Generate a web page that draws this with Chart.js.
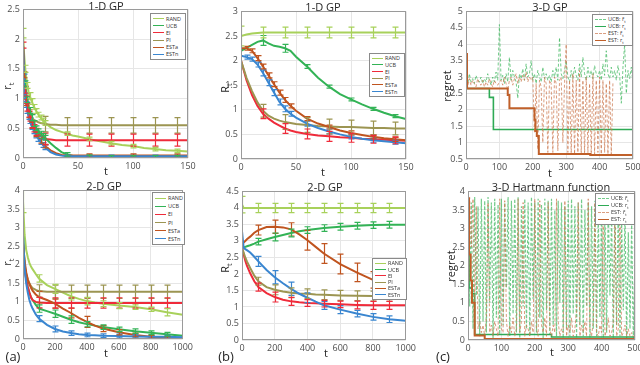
<!DOCTYPE html>
<html>
<head>
<meta charset="utf-8">
<script src="https://cdn.jsdelivr.net/npm/chart.js@4"></script>
<style>
body { margin: 0; background: #fff; font-family: "Open Sans", "Noto Sans", sans-serif; color: #262626; }
#wrap { position: relative; width: 640px; height: 365px; overflow: hidden; }
.panel { position: absolute; }
.lbl { position: absolute; transform: translate(-50%, -50%); white-space: nowrap; line-height: 1; }
.ttl { font-size: 11px; }
.xl { font-size: 11px; }
.yl { font-size: 11px; transform: translate(-50%, -50%) rotate(-90deg); }
.yl sub, .lg sub { font-size: 70%; }
.tag { font-size: 13px; }
.lg { position: absolute; background: #fff; border: 1px solid #8a8a8a; box-sizing: border-box; padding: 1px 2px; font-size: 5.5px; color: #333; white-space: nowrap; overflow: hidden; }
.lg div { display: flex; align-items: center; }
.lg .sw { display: inline-block; width: 11px; margin-right: 2px; flex: none; }
</style>
</head>
<body>
<div id="wrap">
  <div class="lbl ttl" style="left:106px;top:5px">1-D GP</div>
  <div class="lbl ttl" style="left:323px;top:6px">1-D GP</div>
  <div class="lbl ttl" style="left:550px;top:6px">3-D GP</div>
  <div class="lbl ttl" style="left:104px;top:185px">2-D GP</div>
  <div class="lbl ttl" style="left:325px;top:186px">2-D GP</div>
  <div class="lbl ttl" style="left:551px;top:186px">3-D Hartmann function</div>

  <div class="lbl xl" style="left:106px;top:170px">t</div>
  <div class="lbl xl" style="left:323px;top:171px">t</div>
  <div class="lbl xl" style="left:550px;top:172px">t</div>
  <div class="lbl xl" style="left:106px;top:352px">t</div>
  <div class="lbl xl" style="left:326px;top:352px">t</div>
  <div class="lbl xl" style="left:552px;top:351px">t</div>

  <div class="lbl yl" style="left:8px;top:86px">r<sub>t</sub></div>
  <div class="lbl yl" style="left:226px;top:88px">R<sub>t</sub></div>
  <div class="lbl yl" style="left:446px;top:86px">regret</div>
  <div class="lbl yl" style="left:8px;top:262px">r<sub>t</sub></div>
  <div class="lbl yl" style="left:226px;top:268px">R<sub>t</sub></div>
  <div class="lbl yl" style="left:450px;top:266px">regret</div>

  <div class="lbl tag" style="left:13px;top:356px">(a)</div>
  <div class="lbl tag" style="left:226px;top:356px">(b)</div>
  <div class="lbl tag" style="left:443px;top:356px">(c)</div>
</div>
<script>
// ---------- data ----------
const methods = ['RAND', 'UCB', 'EI', 'PI', 'ESTa', 'ESTn'];
const colors = ['#a8d15b', '#33b356', '#ef2b3a', '#9c9552', '#c0541f', '#3a86d0'];

// 1-D GP, simple regret r_t
const tA1 = [0,1,2,3,4,5,6,8,10,12,14,16,18,20,25,30,35,40,45,50,60,70,80,90,100,110,120,130,140,150];
const a1Rand = [2.1,1.75,1.5,1.35,1.22,1.12,1.05,0.95,0.86,0.79,0.73,0.68,0.63,0.59,0.52,0.47,0.44,0.41,0.38,0.36,0.32,0.28,0.25,0.22,0.2,0.17,0.15,0.13,0.12,0.11];
const a1Ucb  = [1.9,1.5,1.25,1.1,0.98,0.88,0.8,0.68,0.58,0.5,0.45,0.41,0.37,0.34,0.25,0.17,0.1,0.06,0.04,0.03,0.02,0.02,0.01,0.01,0.01,0.01,0.01,0.01,0.01,0.01];
const a1Ei   = [1.9,1.45,1.15,0.98,0.85,0.75,0.68,0.57,0.5,0.44,0.4,0.37,0.34,0.32,0.31,0.3,0.3,0.3,0.3,0.3,0.3,0.3,0.3,0.3,0.3,0.3,0.3,0.3,0.3,0.3];
const a1Pi   = [1.9,1.4,1.1,0.95,0.85,0.78,0.73,0.68,0.64,0.62,0.6,0.59,0.58,0.57,0.56,0.56,0.55,0.55,0.55,0.55,0.55,0.55,0.55,0.55,0.55,0.55,0.55,0.55,0.55,0.55];
const a1Esta = [1.9,1.4,1.1,0.93,0.82,0.73,0.65,0.55,0.47,0.4,0.34,0.29,0.24,0.2,0.13,0.08,0.05,0.04,0.04,0.04,0.04,0.04,0.04,0.04,0.04,0.04,0.04,0.04,0.04,0.04];
const a1Estn = [1.9,1.35,1.05,0.9,0.8,0.7,0.63,0.53,0.45,0.38,0.32,0.27,0.22,0.18,0.1,0.06,0.04,0.03,0.03,0.03,0.03,0.03,0.03,0.03,0.03,0.03,0.03,0.03,0.03,0.03];
// error bars: [t, half width]
const a1RandErr = [[0,0.08],[2,0.06],[4,0.05],[6,0.05],[8,0.05],[10,0.04],[12,0.04],[14,0.04],[16,0.04],[18,0.04],[20,0.04],[40,0.03],[60,0.03],[80,0.03],[100,0.03],[120,0.03],[140,0.03]];
const a1UcbErr  = [[2,0.05],[4,0.05],[6,0.05],[8,0.05],[10,0.05],[12,0.04],[14,0.04],[16,0.04],[18,0.04],[20,0.04],[40,0.03],[60,0.03],[80,0.03],[100,0.03],[120,0.03],[140,0.03]];
const a1EiErr   = [[0,0.05],[2,0.06],[3,0.06],[4,0.06],[5,0.06],[6,0.06],[8,0.06],[10,0.06],[12,0.06],[20,0.1],[40,0.1],[60,0.1],[80,0.1],[100,0.1],[120,0.1],[140,0.1]];
const a1PiErr   = [[20,0.13],[40,0.13],[60,0.13],[80,0.13],[100,0.13],[120,0.13],[140,0.13]];
const a1EstaErr = [[1,0.05],[3,0.05],[5,0.05],[8,0.05],[12,0.04],[16,0.04],[20,0.03],[60,0.03],[100,0.03],[140,0.03]];
const a1EstnErr = [[1,0.06],[2,0.05],[3,0.05],[4,0.05],[5,0.05],[6,0.05],[8,0.05],[10,0.04],[12,0.04],[14,0.04],[16,0.04],[18,0.04],[20,0.04],[40,0.02],[60,0.02],[80,0.02],[100,0.02],[120,0.02],[140,0.02]];

// 1-D GP, cumulative regret R_t
const tB1 = [0,5,10,15,20,25,30,35,40,45,50,60,70,80,90,100,110,120,130,140,150];
const b1Rand = [2.5,2.53,2.55,2.56,2.57,2.57,2.57,2.57,2.57,2.57,2.57,2.57,2.57,2.57,2.57,2.57,2.57,2.57,2.57,2.57,2.57];
const b1Ucb  = [2.2,2.26,2.32,2.38,2.41,2.35,2.3,2.28,2.25,2.2,2.08,1.88,1.65,1.47,1.32,1.21,1.11,1.02,0.94,0.87,0.81];
const b1Ei   = [2.0,1.6,1.3,1.08,0.92,0.82,0.74,0.68,0.62,0.58,0.55,0.51,0.48,0.46,0.44,0.43,0.41,0.4,0.39,0.38,0.37];
const b1Pi   = [2.0,1.65,1.38,1.15,0.98,0.88,0.82,0.78,0.75,0.73,0.71,0.69,0.67,0.66,0.65,0.65,0.64,0.63,0.63,0.62,0.62];
const b1Esta = [2.25,2.25,2.2,2.05,1.88,1.7,1.52,1.35,1.2,1.08,0.98,0.82,0.72,0.65,0.58,0.53,0.49,0.45,0.42,0.4,0.38];
const b1Estn = [2.1,2.07,2.03,1.92,1.75,1.55,1.35,1.16,1.02,0.92,0.84,0.72,0.63,0.56,0.5,0.45,0.41,0.38,0.36,0.34,0.32];
const b1RandErr = [[0,0.2],[20,0.11],[40,0.11],[60,0.11],[80,0.11],[100,0.11],[120,0.11],[140,0.11]];
const b1UcbErr  = [[20,0.1],[40,0.08],[60,0.04],[80,0.03],[100,0.03],[120,0.03],[140,0.03]];
const b1EiErr   = [[20,0.1],[40,0.1],[60,0.1],[80,0.1],[100,0.09],[120,0.08],[140,0.07]];
const b1PiErr   = [[20,0.13],[40,0.15],[60,0.15],[80,0.15],[100,0.14],[120,0.14],[140,0.13]];
const b1EstaErr = [[5,0.04],[10,0.04],[15,0.05],[20,0.05],[25,0.05],[30,0.05],[35,0.05],[40,0.05],[45,0.04],[60,0.04],[80,0.04],[100,0.04],[120,0.04],[140,0.04]];
const b1EstnErr = [[5,0.04],[10,0.04],[15,0.05],[20,0.06],[25,0.06],[30,0.06],[35,0.06],[40,0.06],[45,0.05],[60,0.05],[80,0.05],[100,0.04],[120,0.04],[140,0.04]];

// 2-D GP, simple regret r_t
const tA2 = [0,10,20,30,40,50,60,80,100,150,200,250,300,350,400,450,500,600,700,800,900,1000];
const a2Rand = [3.7,2.8,2.4,2.2,2.05,1.95,1.88,1.75,1.63,1.45,1.35,1.25,1.15,1.08,1.02,0.98,0.95,0.9,0.86,0.8,0.72,0.65];
const a2Ucb  = [2.8,2.0,1.6,1.4,1.25,1.12,1.05,0.92,0.82,0.75,0.68,0.6,0.52,0.45,0.4,0.36,0.32,0.26,0.21,0.17,0.13,0.09];
const a2Ei   = [2.5,1.9,1.6,1.4,1.25,1.12,1.05,1.0,0.98,0.97,0.97,0.97,0.97,0.97,0.97,0.97,0.97,0.97,0.97,0.97,0.97,0.97];
const a2Pi   = [2.6,2.0,1.75,1.6,1.5,1.42,1.37,1.32,1.29,1.27,1.27,1.27,1.27,1.27,1.27,1.27,1.27,1.27,1.27,1.27,1.27,1.27];
const a2Esta = [2.6,2.1,1.8,1.6,1.48,1.38,1.3,1.2,1.13,1.05,0.95,0.82,0.7,0.57,0.46,0.36,0.28,0.18,0.11,0.06,0.03,0.02];
const a2Estn = [2.8,1.9,1.5,1.25,1.05,0.92,0.82,0.66,0.55,0.38,0.27,0.2,0.16,0.13,0.11,0.1,0.09,0.08,0.07,0.06,0.06,0.05];
const a2RandErr = [[0,0.3],[100,0.1],[200,0.12],[300,0.1],[400,0.1],[500,0.08],[600,0.08],[700,0.06],[800,0.06],[900,0.1]];
const a2UcbErr  = [[100,0.1],[200,0.1],[300,0.1],[400,0.07],[500,0.06],[600,0.06],[700,0.06],[800,0.05],[900,0.05]];
const a2EiErr   = [[100,0.14],[200,0.14],[300,0.14],[400,0.14],[500,0.14],[600,0.14],[700,0.14],[800,0.14],[900,0.14]];
const a2PiErr   = [[100,0.17],[200,0.18],[300,0.18],[400,0.18],[500,0.18],[600,0.18],[700,0.18],[800,0.18],[900,0.18]];
const a2EstaErr = [[100,0.15],[200,0.12],[300,0.13],[400,0.15],[500,0.08],[600,0.07],[700,0.05],[800,0.04],[900,0.03]];
const a2EstnErr = [[100,0.08],[200,0.08],[300,0.06],[400,0.05],[500,0.05],[600,0.05],[700,0.04],[800,0.04],[900,0.04]];

// 2-D GP, cumulative regret R_t
const tB2 = [0,10,20,30,50,75,100,150,200,250,300,350,400,450,500,600,700,800,900,1000];
const b2Rand = [4.1,4.0,4.0,4.0,4.0,4.0,4.0,4.0,4.0,4.0,4.0,4.0,4.0,4.0,4.0,4.0,4.0,4.0,4.0,4.0];
const b2Ucb  = [2.8,2.8,2.82,2.84,2.87,2.92,2.98,3.05,3.12,3.18,3.24,3.29,3.33,3.36,3.39,3.43,3.46,3.48,3.49,3.49];
const b2Ei   = [2.8,2.6,2.4,2.25,2.02,1.78,1.6,1.42,1.3,1.22,1.17,1.14,1.12,1.11,1.1,1.08,1.06,1.05,1.05,1.05];
const b2Pi   = [2.8,2.65,2.5,2.38,2.18,1.95,1.78,1.6,1.52,1.47,1.43,1.41,1.4,1.38,1.37,1.35,1.34,1.33,1.32,1.32];
const b2Esta = [2.9,2.95,3.0,3.05,3.13,3.25,3.33,3.42,3.43,3.41,3.35,3.2,3.02,2.82,2.62,2.3,2.05,1.82,1.65,1.5];
const b2Estn = [3.3,2.8,2.75,2.72,2.65,2.52,2.38,2.12,1.9,1.72,1.55,1.4,1.28,1.16,1.05,0.92,0.8,0.7,0.63,0.58];
const b2RandErr = [[0,0.25],[100,0.14],[200,0.14],[300,0.14],[400,0.14],[500,0.14],[600,0.14],[700,0.14],[800,0.14],[900,0.14]];
const b2UcbErr  = [[100,0.1],[200,0.12],[300,0.12],[400,0.1],[500,0.1],[600,0.1],[700,0.1],[800,0.1],[900,0.1]];
const b2EiErr   = [[100,0.12],[200,0.15],[300,0.12],[400,0.1],[500,0.1],[600,0.1],[700,0.12],[800,0.12],[900,0.12]];
const b2PiErr   = [[100,0.12],[200,0.15],[300,0.15],[400,0.15],[500,0.15],[600,0.15],[700,0.15],[800,0.15],[900,0.15]];
const b2EstaErr = [[100,0.15],[200,0.2],[300,0.2],[400,0.3],[500,0.3],[600,0.3],[700,0.28],[800,0.25],[900,0.22]];
const b2EstnErr = [[100,0.15],[200,0.2],[300,0.2],[400,0.15],[500,0.12],[600,0.12],[700,0.1],[800,0.1],[900,0.1]];

// 3-D GP and 3-D Hartmann: instantaneous regret (noisy) and best-so-far regret (steps)
const tN = [0,5,10,15,20,25,30,35,40,45,50,55,60,65,70,75,80,85,90,95,100,105,110,115,120,125,130,135,140,145,150,155,160,165,170,175,180,185,190,195,200,205,210,215,220,225,230,235,240,245,250,255,260,265,270,275,280,285,290,295,300,305,310,315,320,325,330,335,340,345,350,355,360,365,370,375,380,385,390,395,400,405,410,415,420,425,430,435,440,445,450,455,460,465,470,475,480,485,490,495,500];
const c1UcbNoise = [2.8,2.75,3.1,2.85,2.95,2.8,3.05,2.9,2.85,3.0, 2.8,2.95,2.85,3.1,2.9,2.75,3.0,2.85,3.15,2.9, 4.6,2.9,3.05,2.8,3.1,2.85,3.6,2.9,3.2,3.0, 2.85,2.35,3.1,2.95,3.25,2.9,3.4,3.0,3.1,3.5, 2.9,3.1,2.8,3.2,3.0,2.85,3.3,2.95,3.1,2.9, 3.05,2.85,3.2,3.0,3.3,2.9,4.2,3.1,2.95,3.2, 3.5,3.0,2.85,3.2,2.95,3.3,3.05,2.9,3.4,3.0, 3.6,3.1,2.9,3.3,3.0,3.2,2.95,3.35,3.1,3.0, 3.2,2.9,3.4,3.05,3.8,3.1,2.95,3.3,3.0,3.2, 2.9,3.35,3.05,2.2,3.3,4.0,2.5,3.2,2.95,3.3, 2.8];
const c1EstNoise = [3.7,2.7,2.95,2.75,2.9,2.8,2.7,2.95,2.8,2.75, 2.9,2.7,2.85,2.75,2.95,2.8,2.7,2.9,2.8,2.75, 2.85,2.9,2.75,3.0,2.8,2.6,2.9,3.0,2.75,2.95, 3.1,2.8,3.0,2.85,3.05,2.9,3.15,2.85,3.0,2.9, 3.0,1.3,2.8,0.8,2.9,2.7,1.0,3.0,2.8,0.7, 2.9,2.8,0.7,3.0,2.8,0.75,2.9,3.0,1.0,2.8, 4.0,0.7,2.9,0.65,3.1,0.65,2.9,0.7,3.2,0.65, 2.9,0.65,3.0,0.7,2.8,0.65,3.1,0.65,2.9,0.7, 3.0,0.65,2.9,0.7,2.8,0.65,2.9,0.65,2.85];
const c1UcbStepT = [0,70,82,500];
const c1UcbStep  = [2.65,2.38,1.4,1.4];
const c1EstStepT = [0,3,125,130,205,208,212,218,372,500];
const c1EstStep  = [3.7,2.65,2.45,2.05,1.7,1.35,1.2,0.65,0.62,0.62];

const c2UcbNoise = [3.8,0.9,3.7,0.3,3.85,1.2,3.6,0.1,3.8,0.5, 3.75,0.2,3.85,1.0,3.7,0.05,3.8,0.6,3.65,0.15, 3.8,0.4,3.7,1.4,3.85,0.1,3.75,0.7,3.8,0.2, 3.85,0.05,3.6,0.9,3.8,0.3,3.7,0.1,3.85,1.1, 3.7,0.2,3.8,0.6,3.65,0.05,3.8,0.8,3.75,0.15, 3.8,0.4,3.5,0.1,3.75,1.0,3.7,0.05,3.6,0.3, 3.75,0.1,3.8,0.7,3.6,0.05,3.7,0.4,3.8,0.1, 3.5,0.9,3.7,0.05,3.6,0.3,3.75,0.1,3.4,0.6, 3.7,0.05,3.5,0.2,3.6,1.2,3.3,0.05,3.5,0.4, 3.6,0.1,3.2,0.8,3.4,0.05,2.9,0.3,3.1,0.05, 2.3];
const c2EstNoise = [3.7,3.85,2.5,3.8,1.0,3.6,0.3,0.5,0.2,0.4, 0.1,0.6,3.7,0.2,0.4,0.1,0.5,0.3,0.1,3.8, 0.3,0.2,3.75,0.5,0.1,0.4,0.2,0.6,0.1,0.3, 3.8,0.2,0.5,3.7,0.1,0.4,0.3,0.1,0.5,0.2, 3.8,0.3,0.1,3.75,0.4,0.2,0.6,0.1,3.7,0.3, 0.1,0.4,0.2,3.8,0.5,0.1,0.3,0.2,3.75,0.1, 0.4,0.2,0.6,0.1,0.3,0.8,3.7,0.1,0.4,0.2, 0.5,0.1,3.8,0.3,0.1,0.5,3.7,0.2,0.1,0.4, 0.2,3.75,0.1,0.3,0.6,0.1,0.2,0.5,3.7,0.1, 0.3,3.8,0.1,0.2,0.4,0.1,0.3,0.1,0.2,0.1, 0.1];
const c2UcbStepT = [0,3,12,20,250,500];
const c2UcbStep  = [2.3,1.4,1.25,0.15,0.08,0.08];
const c2EstStepT = [0,3,8,12,20,50,500];
const c2EstStep  = [3.8,2.3,1.6,1.0,0.12,0.03,0.03];

const noiseNames = ['UCB: r\u0303<sub>t</sub>', 'UCB: r<sub>t</sub>', 'EST: r\u0303<sub>t</sub>', 'EST: r<sub>t</sub>'];
const noiseColors = ['rgba(70,185,100,0.75)', '#2eaa55', 'rgba(205,125,85,0.75)', '#c0602a'];

// ---------- layout ----------
const YW = 24, XH = 14, PT = 8, PR = 11;
const wrap = document.getElementById('wrap');

// error bars + MATLAB style box around the axes
const frameAndErr = {
  id: 'frameAndErr',
  afterDatasetsDraw(chart) {
    const { ctx, chartArea: a, scales } = chart;
    ctx.save();
    ctx.beginPath();
    ctx.rect(a.left, a.top, a.right - a.left, a.bottom - a.top);
    ctx.clip();
    chart.data.datasets.forEach(ds => {
      if (!ds.errs) return;
      ctx.strokeStyle = ds.borderColor;
      ctx.lineWidth = 1.2;
      ds.errs.forEach(([t, h]) => {
        const pt = ds.data.find(p => p.x === t);
        if (!pt) return;
        const x = Math.round(scales.x.getPixelForValue(t)) + 0.5;
        const y1 = scales.y.getPixelForValue(pt.y - h);
        const y2 = scales.y.getPixelForValue(pt.y + h);
        ctx.beginPath();
        ctx.moveTo(x, y1); ctx.lineTo(x, y2);
        ctx.moveTo(x - 3, y1); ctx.lineTo(x + 3, y1);
        ctx.moveTo(x - 3, y2); ctx.lineTo(x + 3, y2);
        ctx.stroke();
      });
    });
    ctx.restore();
    ctx.save();
    ctx.strokeStyle = '#9a9a9a';
    ctx.lineWidth = 1;
    ctx.strokeRect(Math.round(a.left) + 0.5, Math.round(a.top) + 0.5, Math.round(a.right - a.left) - 1, Math.round(a.bottom - a.top) - 1);
    ctx.restore();
  }
};

function axis([min, max, step], fit) {
  return {
    type: 'linear', min, max,
    ticks: {
      stepSize: step, autoSkip: false, maxRotation: 0, padding: 3,
      color: '#4d4d4d', font: { size: 9, family: 'Open Sans' },
      callback: v => String(+v.toFixed(2))
    },
    grid: { color: '#e6e6e6', drawTicks: false },
    border: { display: false },
    afterFit: fit
  };
}

function panel(box, xr, yr, datasets) {
  const [L, T, R, B] = box;
  const w = R - L + YW + PR, h = B - T + PT + XH;
  const div = document.createElement('div');
  div.className = 'panel';
  div.style.left = (L - YW) + 'px';
  div.style.top = (T - PT) + 'px';
  const cv = document.createElement('canvas');
  cv.width = w; cv.height = h;
  cv.style.width = w + 'px'; cv.style.height = h + 'px';
  div.appendChild(cv);
  wrap.insertBefore(div, wrap.firstChild);
  new Chart(cv, {
    type: 'scatter',
    data: { datasets },
    options: {
      responsive: false, animation: false, devicePixelRatio: 1,
      layout: { padding: { top: PT, right: PR, left: 0, bottom: 0 } },
      plugins: { legend: { display: false }, tooltip: { enabled: false } },
      scales: {
        x: axis(xr, s => { s.height = XH; }),
        y: axis(yr, s => { s.width = YW; })
      }
    },
    plugins: [frameAndErr]
  });
}

function series(t, v, color, errs, extra) {
  return Object.assign({
    data: t.map((x, i) => ({ x, y: v[i] })),
    showLine: true, borderColor: color, backgroundColor: color,
    borderWidth: 2, pointRadius: 0, errs
  }, extra || {});
}

// first dataset is drawn on top in Chart.js, so pass them reversed
function sixSeries(t, vals, errs) {
  return vals.map((v, i) => series(t, v, colors[i], errs[i])).reverse();
}

function legend(x, y, w, h, names, cols, dashed) {
  const lg = document.createElement('div');
  lg.className = 'lg';
  Object.assign(lg.style, { left: x + 'px', top: y + 'px', width: w + 'px', height: h + 'px' });
  const rowH = (h - 4) / names.length;
  names.forEach((n, i) => {
    const row = document.createElement('div');
    row.style.height = rowH + 'px';
    const sw = document.createElement('span');
    sw.className = 'sw';
    sw.style.borderTop = (dashed && dashed[i] ? '1px dashed ' : '1.5px solid ') + cols[i];
    const tx = document.createElement('span');
    tx.innerHTML = n;
    row.appendChild(sw); row.appendChild(tx);
    lg.appendChild(row);
  });
  wrap.appendChild(lg);
}

// ---------- panels ----------
panel([23, 9, 188, 158], [0, 150, 50], [0, 2.5, 0.5],
  sixSeries(tA1, [a1Rand, a1Ucb, a1Ei, a1Pi, a1Esta, a1Estn],
    [a1RandErr, a1UcbErr, a1EiErr, a1PiErr, a1EstaErr, a1EstnErr]));
panel([241, 11, 406, 159], [0, 150, 50], [0, 3, 0.5],
  sixSeries(tB1, [b1Rand, b1Ucb, b1Ei, b1Pi, b1Esta, b1Estn],
    [b1RandErr, b1UcbErr, b1EiErr, b1PiErr, b1EstaErr, b1EstnErr]));
panel([466, 11, 633, 159], [0, 500, 100], [0.5, 5, 0.5], [
  series(c1EstStepT, c1EstStep, noiseColors[3], null, { stepped: 'before', borderWidth: 2 }),
  series(tN.slice(0, c1EstNoise.length), c1EstNoise, noiseColors[2], null, { borderWidth: 1, borderDash: [3, 2] }),
  series(c1UcbStepT, c1UcbStep, noiseColors[1], null, { stepped: 'before', borderWidth: 1.6 }),
  series(tN, c1UcbNoise, noiseColors[0], null, { borderWidth: 1, borderDash: [3, 2] })
]);
panel([23, 190, 185, 339], [0, 1000, 200], [0, 4, 0.5],
  sixSeries(tA2, [a2Rand, a2Ucb, a2Ei, a2Pi, a2Esta, a2Estn],
    [a2RandErr, a2UcbErr, a2EiErr, a2PiErr, a2EstaErr, a2EstnErr]));
panel([242, 191, 408, 340], [0, 1000, 200], [0, 4.5, 0.5],
  sixSeries(tB2, [b2Rand, b2Ucb, b2Ei, b2Pi, b2Esta, b2Estn],
    [b2RandErr, b2UcbErr, b2EiErr, b2PiErr, b2EstaErr, b2EstnErr]));
panel([468, 191, 635, 340], [0, 500, 100], [0, 4, 0.5], [
  series(c2EstStepT, c2EstStep, noiseColors[3], null, { stepped: 'before', borderWidth: 2 }),
  series(tN, c2EstNoise, noiseColors[2], null, { borderWidth: 1, borderDash: [3, 2] }),
  series(c2UcbStepT, c2UcbStep, noiseColors[1], null, { stepped: 'before', borderWidth: 1.6 }),
  series(tN, c2UcbNoise, noiseColors[0], null, { borderWidth: 1.2, borderDash: [3, 2] })
]);

legend(150, 13, 36, 47, methods, colors);
legend(369, 53, 36, 44, methods, colors);
legend(592, 14, 41, 32, noiseNames, noiseColors, [true, false, true, false]);
legend(152, 192, 33, 53, methods, colors);
legend(372, 258, 35, 42, methods, colors);
legend(595, 193, 40, 32, noiseNames, noiseColors, [true, false, true, false]);
</script>
</body>
</html>
